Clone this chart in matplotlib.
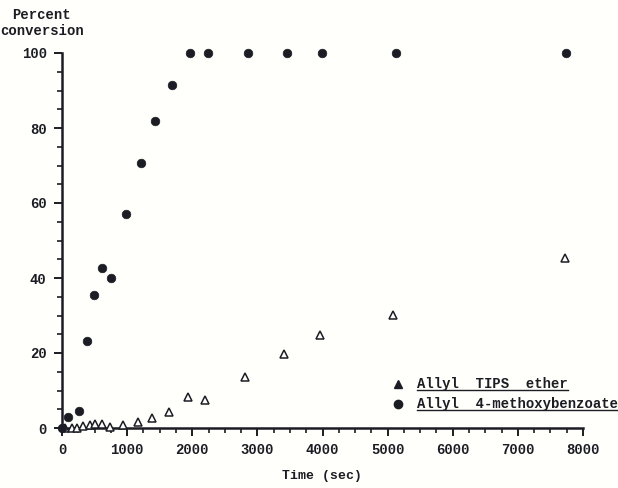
import matplotlib
matplotlib.use("Agg")
import matplotlib.pyplot as plt
from matplotlib.ticker import MultipleLocator

# Allyl 4-methoxybenzoate (filled circles)
benzoate_time = [0, 95, 255, 380, 495, 620, 750, 980, 1210, 1430, 1690,
                 1965, 2245, 2855, 3455, 3995, 5130, 7740]
benzoate_conv = [0, 3, 4.5, 23.3, 35.6, 42.8, 40, 57, 70.8, 82, 91.5,
                 100, 100, 100, 100, 100, 100, 100]

# Allyl TIPS ether (open triangles)
tips_time = [45, 150, 230, 320, 430, 505, 615, 735, 935, 1165, 1380, 1645,
             1935, 2195, 2810, 3410, 3965, 5085, 7725]
tips_conv = [0, 0, 0, 0.5, 0.8, 1, 1.2, 0.3, 0.7, 1.7, 2.6, 4.4,
             8.4, 7.6, 13.5, 19.7, 24.8, 30.1, 45.3]

x_ticks = [0, 1000, 2000, 3000, 4000, 5000, 6000, 7000, 8000]
y_ticks = [0, 20, 40, 60, 80, 100]
series_labels = ["Allyl  TIPS  ether", "Allyl  4-methoxybenzoate"]

ink = "#1c1c24"
font = ["Liberation Mono", "DejaVu Sans Mono"]

fig = plt.figure(figsize=(6.18, 4.88), dpi=100)
fig.patch.set_facecolor("#fffffb")
ax = fig.add_axes([62 / 618, 60 / 488, 521 / 618, 375 / 488])
ax.set_facecolor("none")

ax.plot(tips_time, tips_conv, linestyle="none", marker="^", markersize=5.5,
        markerfacecolor="white", markeredgecolor=ink, markeredgewidth=1.1,
        clip_on=False, zorder=3)
ax.plot(benzoate_time, benzoate_conv, linestyle="none", marker="o",
        markersize=6.2, markerfacecolor=ink, markeredgecolor=ink,
        markeredgewidth=0.5, clip_on=False, zorder=4)

ax.set_xlim(0, 8000)
ax.set_ylim(0, 100)
ax.set_xticks(x_ticks)
ax.set_yticks(y_ticks)
ax.xaxis.set_minor_locator(MultipleLocator(250))
ax.yaxis.set_minor_locator(MultipleLocator(5))

for side in ("top", "right"):
    ax.spines[side].set_visible(False)
for side in ("left", "bottom"):
    ax.spines[side].set_linewidth(1.8)
    ax.spines[side].set_color(ink)

ax.tick_params(axis="both", which="major", direction="out", length=6,
               width=1.4, color=ink, pad=5)
ax.tick_params(axis="both", which="minor", direction="out", length=3.5,
               width=1.2, color=ink)
for lbl in ax.get_xticklabels() + ax.get_yticklabels():
    lbl.set_fontfamily(font)
    lbl.set_fontweight("bold")
    lbl.set_fontsize(10)
    lbl.set_color(ink)

fig.text(0 / 618, 1 - 23 / 488, "Percent\nconversion", ha="left", va="center",
         family=font, fontweight="bold", fontsize=10, color=ink,
         linespacing=1.1, multialignment="center")
ax.set_xlabel("Time (sec)", family=font, fontweight="bold", fontsize=9.5,
              color=ink, labelpad=9)

# Legend: marker symbol plus underlined label
legend_rows = [(384, "^", "white"), (404, "o", ink)]
fig.canvas.draw()
renderer = fig.canvas.get_renderer()
for (ypix, mk, face), label in zip(legend_rows, series_labels):
    yf = 1 - ypix / 488
    fig.add_artist(plt.Line2D([398 / 618], [yf], marker=mk, linestyle="none",
                              markersize=5.5 if mk == "^" else 6,
                              markerfacecolor=ink if mk == "^" else face,
                              markeredgecolor=ink, transform=fig.transFigure))
    t = fig.text(417 / 618, yf, label, ha="left", va="center", family=font,
                 fontweight="bold", fontsize=10, color=ink)
    bb = t.get_window_extent(renderer).transformed(fig.transFigure.inverted())
    fig.add_artist(plt.Line2D([bb.x0, bb.x1], [bb.y0 + 0.002, bb.y0 + 0.002],
                              color=ink, linewidth=1.0,
                              transform=fig.transFigure))

fig.savefig("out.png", dpi=100, facecolor=fig.get_facecolor())
